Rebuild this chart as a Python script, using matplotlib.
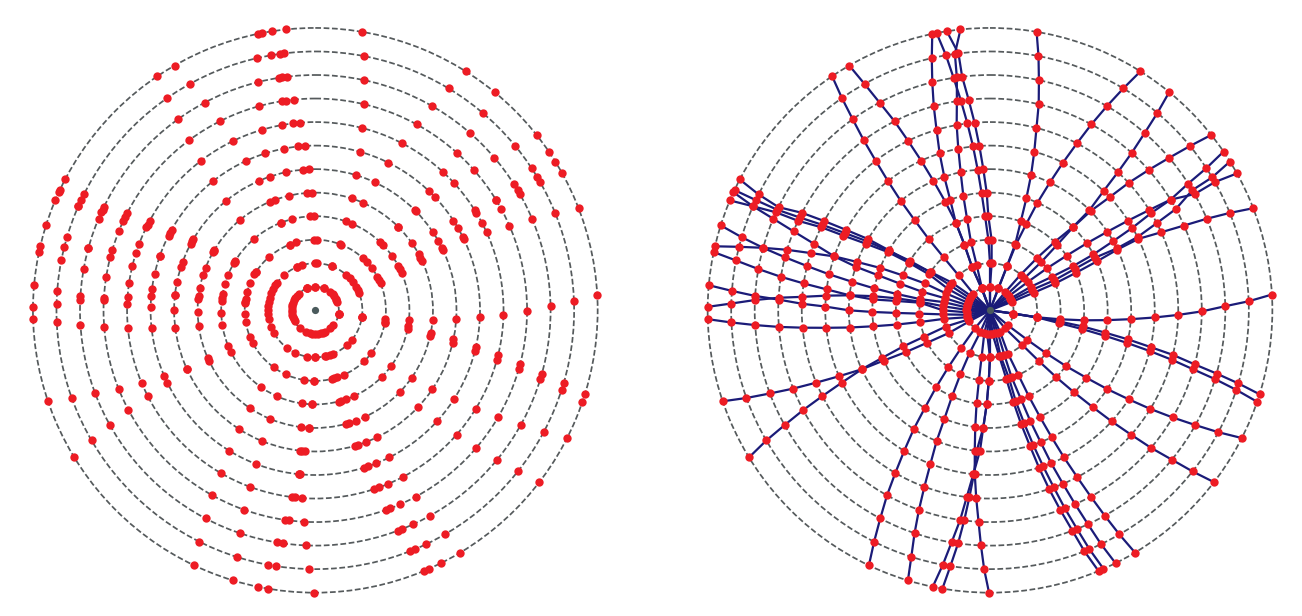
import matplotlib
matplotlib.use("Agg")
import matplotlib.pyplot as plt
import numpy as np

# bearings in degrees (clockwise from north) of each spoke, read from ring 12 in to ring 1
rings = [12, 11, 10, 9, 8, 7, 6, 5, 4, 3, 2, 1]

spoke_01 = [9.5, 10.8, 12.0, 13.3, 14.3, 15.6, 16.9, 18.0, 19.1, 20.9, 21.0, 20.7]
spoke_02 = [32.2, 31.0, 29.8, 28.6, 27.5, 26.3, 25.1, 23.8, 22.8, 21.5, 21.2, 21.0]
spoke_03 = [39.4, 40.3, 41.1, 42.0, 42.8, 43.6, 44.8, 44.9, 43.4, 42.0, 40.7, 40.0]
spoke_04 = [51.6, 50.6, 49.6, 48.5, 47.4, 46.6, 45.4, 45.0, 45.7, 46.7, 47.0, 47.0]
spoke_05 = [55.8, 56.7, 57.4, 58.5, 58.9, 59.9, 60.7, 61.6, 62.0, 61.6, 60.0, 60.0]
spoke_06 = [58.2, 59.1, 59.3, 61.4, 62.4, 63.6, 64.0, 63.4, 64.0, 65.0, 64.0, 64.0]
spoke_07 = [61.0, 60.3, 60.4, 58.5, 57.8, 57.0, 56.2, 55.3, 54.5, 53.6, 53.1, 53.0]
spoke_08 = [68.8, 67.9, 67.1, 66.4, 65.5, 64.3, 64.5, 65.4, 66.4, 67.6, 68.1, 68.8]
spoke_09 = [86.8, 88.0, 89.0, 90.3, 91.4, 92.5, 93.6, 94.8, 96.1, 97.3, 98.5, 98.1]
spoke_10 = [107.3, 106.4, 105.6, 104.8, 103.7, 102.9, 101.9, 101.0, 99.9, 99.2, 98.5, 98.0]
spoke_11 = [108.9, 107.9, 107.0, 106.2, 105.2, 104.3, 103.4, 102.5, 101.5, 100.5, 98.5, 98.0]
spoke_12 = [116.9, 118.1, 119.2, 120.4, 121.6, 122.7, 123.9, 125.0, 126.3, 127.4, 128.4, 130.0]
spoke_13 = [127.5, 128.5, 129.4, 130.5, 131.4, 132.4, 133.3, 134.3, 135.3, 136.1, 137.0, 140.0]
spoke_14 = [149.1, 150.0, 150.8, 151.6, 152.4, 153.3, 154.1, 154.9, 155.7, 156.3, 157.4, 155.0]
spoke_15 = [153.6, 154.6, 155.4, 156.3, 157.2, 158.2, 159.0, 160.0, 160.8, 162.1, 162.2, 161.0]
spoke_16 = [156.3, 157.4, 158.3, 159.3, 160.2, 161.2, 162.2, 163.2, 164.2, 164.4, 166.9, 167.0]
spoke_17 = [157.4, 158.6, 159.5, 160.6, 161.7, 162.7, 163.6, 164.7, 165.7, 166.6, 168.6, 174.0]
spoke_18 = [180.2, 181.3, 182.2, 183.1, 184.2, 185.3, 186.2, 187.2, 188.2, 189.0, 190.2, 194.0]
spoke_19 = [189.7, 188.8, 187.8, 187.0, 186.3, 185.6, 185.4, 183.3, 182.0, 181.0, 180.0, 180.0]
spoke_20 = [191.7, 190.5, 189.4, 188.1, 187.1, 185.8, 184.1, 183.3, 182.0, 181.0, 180.0, 187.0]
spoke_21 = [196.9, 197.7, 198.7, 199.6, 200.4, 201.2, 202.2, 202.8, 203.8, 204.8, 205.5, 204.0]
spoke_22 = [205.4, 206.6, 207.8, 209.1, 210.2, 211.4, 212.7, 213.7, 215.0, 216.2, 217.5, 219.8]
spoke_23 = [238.6, 239.8, 240.8, 241.9, 242.9, 244.0, 245.3, 244.7, 243.6, 242.7, 241.1, 242.0]
spoke_24 = [251.2, 250.2, 249.3, 248.3, 247.4, 246.4, 245.3, 246.2, 247.4, 248.2, 249.8, 247.0]
spoke_25 = [268.2, 267.3, 266.4, 265.5, 264.7, 263.9, 263.0, 262.2, 261.3, 260.5, 259.5, 253.0]
spoke_26 = [275.1, 274.3, 273.5, 272.9, 272.0, 271.3, 270.0, 269.2, 268.4, 267.3, 265.0, 259.0]
spoke_27 = [270.7, 271.5, 272.5, 273.4, 274.1, 275.1, 276.1, 275.3, 275.7, 276.2, 270.0, 265.0]
spoke_28 = [281.9, 281.1, 280.1, 279.1, 278.2, 277.3, 276.1, 276.9, 277.3, 277.0, 275.0, 271.0]
spoke_29 = [283.1, 284.2, 285.4, 286.6, 287.7, 289.1, 290.0, 291.1, 291.8, 292.4, 291.0, 289.0]
spoke_30 = [287.5, 286.4, 285.4, 284.5, 283.6, 282.6, 281.7, 280.7, 279.9, 279.1, 280.0, 277.0]
spoke_31 = [292.9, 293.7, 294.6, 295.0, 296.2, 297.0, 298.2, 299.7, 300.4, 300.5, 297.0, 295.0]
spoke_32 = [295.2, 295.2, 295.3, 296.0, 297.0, 298.0, 299.3, 300.4, 301.7, 302.5, 302.0, 301.0]
spoke_33 = [294.7, 293.7, 292.9, 291.9, 290.7, 289.1, 288.0, 287.4, 286.5, 285.3, 285.0, 283.0]
spoke_34 = [297.6, 296.6, 296.0, 297.4, 298.3, 299.2, 300.3, 300.7, 301.0, 302.8, 306.0, 307.0]
spoke_35 = [330.1, 331.0, 332.0, 333.2, 334.2, 335.3, 336.4, 337.6, 338.7, 338.7, 337.5, 339.0]
spoke_36 = [326.0, 325.1, 324.3, 323.4, 322.6, 321.7, 320.8, 320.1, 319.3, 318.8, 318.0, 315.0]
spoke_37 = [348.2, 347.0, 345.8, 344.6, 343.5, 342.2, 341.1, 340.2, 338.7, 338.7, 337.5, 339.0]
spoke_38 = [349.1, 350.2, 351.1, 352.1, 353.1, 354.1, 355.0, 355.9, 357.0, 358.7, 360.0, 360.0]
spoke_39 = [351.2, 353.0, 353.2, 354.2, 355.3, 356.3, 357.3, 358.4, 359.0, 361.3, 362.0, 360.0]
spoke_40 = [354.0, 352.2, 351.9, 351.0, 349.8, 348.9, 348.0, 346.9, 345.9, 344.4, 343.6, 340.0]

spokes = [spoke_01, spoke_02, spoke_03, spoke_04, spoke_05, spoke_06, spoke_07, spoke_08,
          spoke_09, spoke_10, spoke_11, spoke_12, spoke_13, spoke_14, spoke_15, spoke_16,
          spoke_17, spoke_18, spoke_19, spoke_20, spoke_21, spoke_22, spoke_23, spoke_24,
          spoke_25, spoke_26, spoke_27, spoke_28, spoke_29, spoke_30, spoke_31, spoke_32,
          spoke_33, spoke_34, spoke_35, spoke_36, spoke_37, spoke_38, spoke_39, spoke_40]

RED = '#ed1c24'
NAVY = '#1b1b78'
GREY = '#555a5c'
HUB = '#4a5a5c'

W, H = 1302, 616
RING_PX = 23.53
RMAX = 12.5


def polar_panel(fig, cx, cy):
    half = RMAX * RING_PX
    ax = fig.add_axes([(cx - half) / W, (H - cy - half) / H, 2 * half / W, 2 * half / H],
                      projection='polar')
    ax.set_theta_zero_location('N')
    ax.set_theta_direction(-1)
    ax.set_rlim(0, RMAX)
    ax.set_xticks([])
    ax.set_yticks(rings)
    ax.set_yticklabels([])
    ax.yaxis.grid(True, color=GREY, linewidth=1.25, linestyle=(0, (3.3, 1.5)))
    ax.spines['polar'].set_visible(False)
    ax.patch.set_visible(False)
    ax.tick_params(length=0)
    return ax


fig = plt.figure(figsize=(W / 100, H / 100), dpi=100)
ax_left = polar_panel(fig, 315.3, 310.3)
ax_right = polar_panel(fig, 990.0, 310.3)

for s in spokes:
    t = np.radians(s)
    ax_left.plot(t, rings, 'o', color=RED, markersize=6.0, markeredgewidth=0, zorder=3)
    # lines run on to the hub at r=0
    ax_right.plot(np.append(t, t[-1]), rings + [0], '-', color=NAVY, linewidth=1.6, zorder=2)
    ax_right.plot(t, rings, 'o', color=RED, markersize=6.0, markeredgewidth=0, zorder=3)

for ax in (ax_left, ax_right):
    ax.plot([0], [0], 'o', color=HUB, markersize=5.2, markeredgewidth=0, zorder=4, clip_on=False)

fig.savefig('out.png', dpi=100)
